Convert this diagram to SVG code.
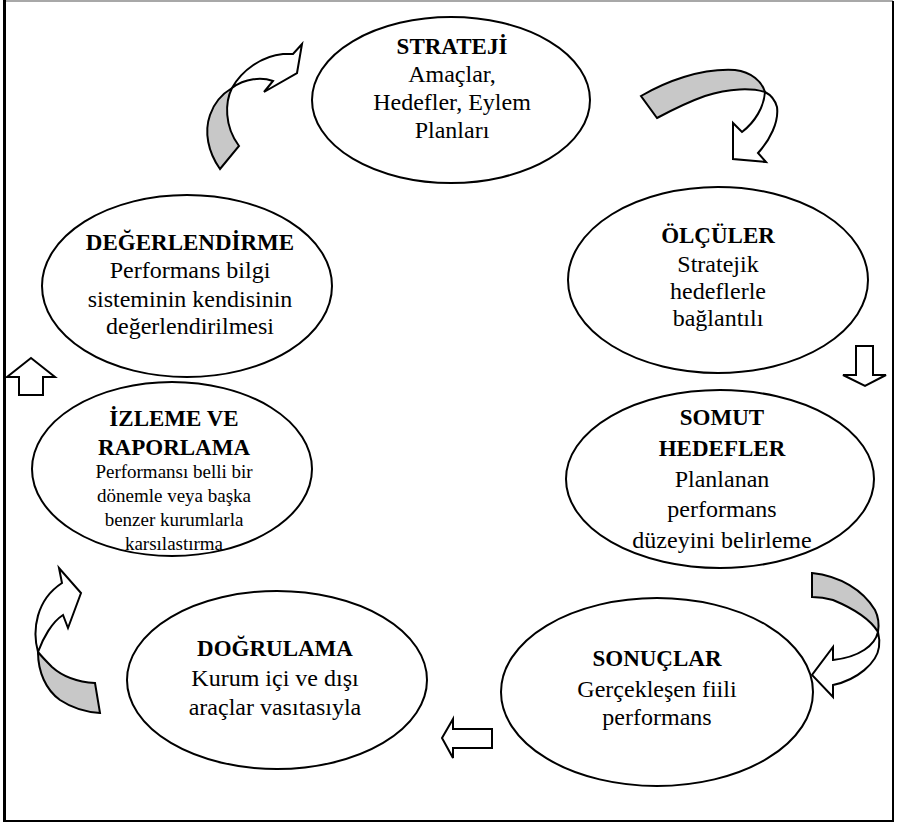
<svg xmlns="http://www.w3.org/2000/svg" width="898" height="823" viewBox="0 0 898 823">
  <style>
    .node ellipse { fill: #ffffff; stroke: #000000; stroke-width: 2; }
    .title { font-family: "Liberation Serif", "DejaVu Serif", serif; font-weight: bold; font-size: 23px; fill: #000; text-anchor: middle; }
    .body { font-family: "Liberation Serif", "DejaVu Serif", serif; font-size: 24px; fill: #000; text-anchor: middle; }
    .small { font-family: "Liberation Serif", "DejaVu Serif", serif; font-size: 19px; fill: #000; text-anchor: middle; }
    .arrow { fill: #ffffff; stroke: #000000; stroke-width: 2; stroke-linejoin: miter; }
    .back { fill: #c8c8c8; stroke: #000000; stroke-width: 2; stroke-linejoin: miter; }
  </style>

  <!-- page frame -->
  <rect x="0" y="0" width="898" height="823" fill="#ffffff"/>
  <line x1="4" y1="1" x2="893" y2="1" stroke="#a8a8a8" stroke-width="2"/>
  <line x1="4.5" y1="0" x2="4.5" y2="822" stroke="#000" stroke-width="3"/>
  <line x1="893" y1="1" x2="893" y2="822" stroke="#000" stroke-width="2"/>
  <line x1="4" y1="821" x2="894" y2="821" stroke="#000" stroke-width="2"/>

  <!-- connectors -->
  <g id="connectors">
    <!-- top-left curved arrow -->
    <path class="back" d="M220,169 C208,152 204,132 210,115 C214,103 222,94 232,88 C225,102 224,126 239,146 Z"/>
    <path class="arrow" d="M232,88 C242,70 262,56 283,54 L293,54 L302,44 L297,73 L264,92 L273,81 C262,77 245,78 232,88 Z"/>
    <!-- top-right curved arrow -->
    <path class="back" d="M641,96 C665,82 700,68 735,70 C752,72 762,82 765,92 C752,88 730,88 705,96 C688,102 672,110 657,118 Z"/>
    <path class="arrow" d="M765,92 C764,107 755,122 742,132 L733,123 L733,159 L766,162 L758,153 C770,140 779,122 777,107 C775,100 771,95 765,92 Z"/>
    <!-- right down arrow -->
    <path class="arrow" d="M856,346 L873,346 L873,375 L886,375 L865,386 L843,375 L856,375 Z"/>
    <!-- bottom-right curved arrow -->
    <path class="back" d="M812,573 C840,576 863,590 875,610 C879,618 879,626 878,632 C872,622 857,610 833,600 C826,598 818,597 812,597 Z"/>
    <path class="arrow" d="M878,632 C875,645 860,657 833,660 L833,647 L812,675 L833,697 L833,685 C857,680 877,663 879,647 C880,640 879,636 878,632 Z"/>
    <!-- bottom left-pointing arrow -->
    <path class="arrow" d="M442,738 L453,719 L453,729 L492,729 L492,748 L453,748 L453,758 Z"/>
    <!-- bottom-left curved arrow -->
    <path class="back" d="M38,652 C38,672 46,690 60,700 C72,708 85,712 100,713 L95,683 C78,682 62,676 52,667 C47,662 43,658 38,652 Z"/>
    <path class="arrow" d="M38,652 C32,630 36,600 62,583 L59,568 L81,593 L68,628 L63,615 C52,622 43,638 38,652 Z"/>
    <!-- left up arrow -->
    <path class="arrow" d="M31,358 L55,377 L43,377 L43,395 L19,395 L19,377 L7,377 Z"/>
  </g>

  <g id="strateji" class="node">
    <ellipse cx="451" cy="100" rx="139" ry="83"/>
    <text class="title" x="452" y="54">STRATEJİ</text>
    <text class="body" x="452" y="82">Amaçlar,</text>
    <text class="body" x="452" y="110">Hedefler, Eylem</text>
    <text class="body" x="452" y="138">Planları</text>
  </g>

  <g id="olculer" class="node">
    <ellipse cx="718" cy="280" rx="150" ry="93"/>
    <text class="title" x="718" y="243">ÖLÇÜLER</text>
    <text class="body" x="718" y="272">Stratejik</text>
    <text class="body" x="718" y="299">hedeflerle</text>
    <text class="body" x="718" y="326">bağlantılı</text>
  </g>

  <g id="somut-hedefler" class="node">
    <ellipse cx="720" cy="479" rx="154" ry="89"/>
    <text class="title" x="722" y="425">SOMUT</text>
    <text class="title" x="722" y="456">HEDEFLER</text>
    <text class="body" x="722" y="487">Planlanan</text>
    <text class="body" x="722" y="517">performans</text>
    <text class="body" x="722" y="548">düzeyini belirleme</text>
  </g>

  <g id="sonuclar" class="node">
    <ellipse cx="657" cy="692" rx="156" ry="94"/>
    <text class="title" x="657" y="666">SONUÇLAR</text>
    <text class="body" x="657" y="697">Gerçekleşen fiili</text>
    <text class="body" x="657" y="725">performans</text>
  </g>

  <g id="dogrulama" class="node">
    <ellipse cx="277" cy="680" rx="150" ry="89"/>
    <text class="title" x="275" y="656">DOĞRULAMA</text>
    <text class="body" x="275" y="686">Kurum içi ve dışı</text>
    <text class="body" x="275" y="715">araçlar vasıtasıyla</text>
  </g>

  <g id="izleme-raporlama" class="node">
    <ellipse cx="172" cy="469" rx="140" ry="87"/>
    <text class="title" x="174" y="426">İZLEME VE</text>
    <text class="title" x="174" y="455">RAPORLAMA</text>
    <text class="small" x="174" y="478">Performansı belli bir</text>
    <text class="small" x="174" y="502">dönemle veya başka</text>
    <text class="small" x="174" y="526">benzer kurumlarla</text>
    <text class="small" x="174" y="550">karsılastırma</text>
  </g>

  <g id="degerlendirme" class="node">
    <ellipse cx="187" cy="286" rx="145" ry="91"/>
    <text class="title" x="190" y="250">DEĞERLENDİRME</text>
    <text class="body" x="190" y="278">Performans bilgi</text>
    <text class="body" x="190" y="307">sisteminin kendisinin</text>
    <text class="body" x="190" y="334">değerlendirilmesi</text>
  </g>
</svg>
